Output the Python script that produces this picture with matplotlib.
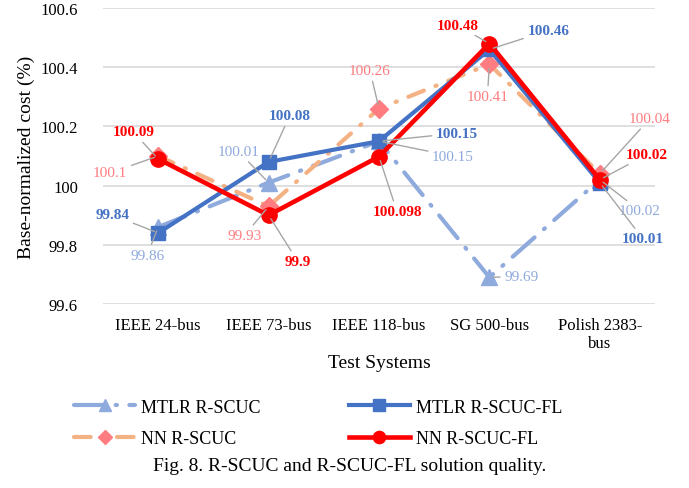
import numpy as np
import matplotlib
matplotlib.use('Agg')
import matplotlib.pyplot as plt

plt.rcParams['font.family'] = ['Liberation Serif', 'DejaVu Serif']

systems = ['IEEE 24-bus', 'IEEE 73-bus', 'IEEE 118-bus', 'SG 500-bus', 'Polish 2383-\nbus']
mtlr_scuc = [99.86, 100.01, 100.15, 99.69, 100.02]
mtlr_fl = [99.84, 100.08, 100.15, 100.46, 100.01]
nn_scuc = [100.1, 99.93, 100.26, 100.41, 100.04]
nn_fl = [100.09, 99.9, 100.098, 100.48, 100.02]
value_text = {
    'mtlr_scuc': ['99.86', '100.01', '100.15', '99.69', '100.02'],
    'mtlr_fl': ['99.84', '100.08', '100.15', '100.46', '100.01'],
    'nn_scuc': ['100.1', '99.93', '100.26', '100.41', '100.04'],
    'nn_fl': ['100.09', '99.9', '100.098', '100.48', '100.02'],
}

# label offsets in pixels (dx right, dy down)
offs = {
    'mtlr_scuc': [(-11, 28), (-30, -31), (74, 15), (32, -1), (40, 31)],
    'mtlr_fl': [(-46, -18), (21, -46), (78, -8), (59, -19), (43, 56)],
    'nn_scuc': [(-48, 17), (-24, 29), (-9, -38), (-2, 32), (50, -55)],
    'nn_fl': [(-25, -27), (29, 46), (18, 55), (-32, -18), (47, -25)],
}

c_lblue = '#8FAADC'
c_blue = '#4472C4'
c_orange = '#F4B183'
c_pink = '#FF7C80'
c_red = '#FF0000'

fig = plt.figure(figsize=(6.89, 4.89), dpi=100)
ax = fig.add_axes([103/689, 1-305/489, 552/689, 296/489])
x = np.arange(len(systems))

l1, = ax.plot(x, mtlr_scuc, color=c_lblue, lw=3, dashes=(7, 3, 0.3, 3), dash_capstyle='round',
              marker='^', ms=11, mfc=c_lblue, mec=c_lblue, label='MTLR R-SCUC', zorder=2)
l3, = ax.plot(x, nn_scuc, color=c_orange, lw=3, dashes=(4, 3, 0.3, 3), dash_capstyle='round',
              marker='D', ms=9, mfc=c_pink, mec=c_pink, label='NN R-SCUC', zorder=3)
l2, = ax.plot(x, mtlr_fl, color=c_blue, lw=3, marker='s', ms=10, mfc=c_blue, mec=c_blue,
              label='MTLR R-SCUC-FL', zorder=4)
l4, = ax.plot(x, nn_fl, color=c_red, lw=3.3, marker='o', ms=11, mfc=c_red, mec=c_red,
              label='NN R-SCUC-FL', zorder=5)

series = [('mtlr_scuc', mtlr_scuc, c_lblue, 'normal'),
          ('mtlr_fl', mtlr_fl, c_blue, 'bold'),
          ('nn_scuc', nn_scuc, c_pink, 'normal'),
          ('nn_fl', nn_fl, c_red, 'bold')]
for key, vals, col, wt in series:
    for i, v in enumerate(vals):
        dx, dy = offs[key][i]
        ax.annotate(value_text[key][i], xy=(x[i], v), xytext=(dx*0.72, -dy*0.72),
                    textcoords='offset points', ha='center', va='center',
                    color=col, fontsize=11, fontweight=wt, zorder=6,
                    arrowprops=dict(arrowstyle='-', color='#A6A6A6', lw=1,
                                    shrinkA=1, shrinkB=3))

ax.set_xlim(-0.5, 4.5)
ax.set_ylim(99.6, 100.6)
ax.set_yticks([99.6, 99.8, 100, 100.2, 100.4, 100.6])
ax.set_yticklabels(['99.6', '99.8', '100', '100.2', '100.4', '100.6'])
ax.set_xticks(x)
ax.set_xticklabels(systems, fontsize=12)
ax.tick_params(axis='y', labelsize=12, length=0, pad=18)
ax.tick_params(axis='x', length=0, pad=9)
ax.grid(axis='y', color='#D9D9D9', lw=1.2)
ax.set_axisbelow(True)
for s in ax.spines.values():
    s.set_visible(False)
ax.set_xlabel('Test Systems', fontsize=14, labelpad=2)
ax.set_ylabel('Base-normalized cost (%)', fontsize=14, labelpad=4)

fig.legend([l1, l3, l2, l4], ['MTLR R-SCUC', 'NN R-SCUC', 'MTLR R-SCUC-FL', 'NN R-SCUC-FL'],
           ncol=2, loc='center', bbox_to_anchor=(318/689, 1-424/489), frameon=False,
           fontsize=13, handlelength=3.4, columnspacing=4.9, labelspacing=0.8,
           handletextpad=0.3, markerscale=0.8)
fig.text(350/689, 1-467/489, 'Fig. 8. R-SCUC and R-SCUC-FL solution quality.',
         ha='center', va='center', fontsize=14)

fig.savefig('out.png', dpi=100)
